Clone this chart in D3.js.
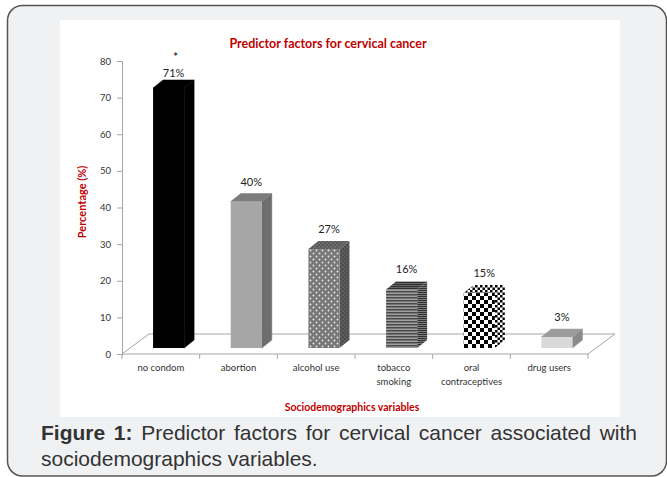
<!DOCTYPE html>
<html lang="en">
<head>
<meta charset="utf-8">
<title>Predictor factors for cervical cancer</title>
<script src="https://d3js.org/d3.v7.min.js"></script>
<style>
  body { margin: 0; width: 667px; height: 477px; overflow: hidden; background: #fff; position: relative; }
  #caption {
    position: absolute; left: 41px; top: 420px; width: 596px;
    font-family: "Liberation Sans", Arial, sans-serif; font-size: 21px; line-height: 26px;
    color: #333; text-align: justify;
  }
  #caption b { color: #333; }
</style>
</head>
<body>
<svg id="chart" width="667" height="477"></svg>
<div id="caption"><b>Figure 1:</b> Predictor factors for cervical cancer associated with sociodemographics variables.</div>
<script>
// data
var categories = ["no condom", "abortion", "alcohol use", "tobacco smoking", "oral contraceptives", "drug users"];
var categoryLines = [["no condom"], ["abortion"], ["alcohol use"], ["tobacco", "smoking"], ["oral", "contraceptives"], ["drug users"]];
var values = [71, 40, 27, 16, 15, 3];
var valueLabels = ["71%", "40%", "27%", "16%", "15%", "3%"];
var notes = ["*", "", "", "", "", ""];
var yTicks = [0, 10, 20, 30, 40, 50, 60, 70, 80];

var svg = d3.select("#chart");
var red = "#c00000", axisGrey = "#a6a6a6", chartFont = "Lato, 'Open Sans', sans-serif";

// card + white chart area
svg.append("rect").attr("x", 7.5).attr("y", 5.5).attr("width", 659).attr("height", 470.5)
  .attr("rx", 15).attr("fill", "#f0f1f3").attr("stroke", "#555").attr("stroke-width", 1.5);
svg.append("rect").attr("x", 60).attr("y", 20).attr("width", 560).attr("height", 397).attr("fill", "#fff");

// patterns
var defs = svg.append("defs");
function dots(id, bg, fg, s, r) {
  var p = defs.append("pattern").attr("id", id).attr("patternUnits", "userSpaceOnUse")
    .attr("width", s).attr("height", s);
  p.append("rect").attr("width", s).attr("height", s).attr("fill", bg);
  p.append("circle").attr("cx", s / 4).attr("cy", s / 4).attr("r", r).attr("fill", fg);
  p.append("circle").attr("cx", 3 * s / 4).attr("cy", 3 * s / 4).attr("r", r).attr("fill", fg);
}
function stripes(id, bg, fg, s) {
  var p = defs.append("pattern").attr("id", id).attr("patternUnits", "userSpaceOnUse")
    .attr("width", 4).attr("height", s);
  p.append("rect").attr("width", 4).attr("height", s).attr("fill", bg);
  p.append("rect").attr("width", 4).attr("height", s / 2).attr("fill", fg);
}
function checker(id, a, b, s) {
  var p = defs.append("pattern").attr("id", id).attr("patternUnits", "userSpaceOnUse")
    .attr("width", 2 * s).attr("height", 2 * s);
  p.append("rect").attr("width", 2 * s).attr("height", 2 * s).attr("fill", a);
  p.append("rect").attr("width", s).attr("height", s).attr("fill", b);
  p.append("rect").attr("x", s).attr("y", s).attr("width", s).attr("height", s).attr("fill", b);
}
dots("dotFront", "#777", "#e8e8e8", 6, 0.9);
dots("dotSide", "#4d4d4d", "#999", 4, 0.6);
dots("dotTop", "#5a5a5a", "#aaa", 4, 0.6);
stripes("lineFront", "#a0a0a0", "#4a4a4a", 3);
stripes("lineSide", "#7a7a7a", "#333", 2);
stripes("lineTop", "#666", "#333", 2);
checker("chkFront", "#fff", "#000", 4);
checker("chkSide", "#fff", "#000", 2.5);
checker("chkTop", "#fff", "#000", 2.5);

var barStyles = [
  { front: "#000", side: "#000", top: "#000", solid: true },
  { front: "#a6a6a6", side: "#6e6e6e", top: "#7c7c7c", solid: true },
  { front: "url(#dotFront)", side: "url(#dotSide)", top: "url(#dotTop)" },
  { front: "url(#lineFront)", side: "url(#lineSide)", top: "url(#lineTop)" },
  { front: "url(#chkFront)", side: "url(#chkSide)", top: "url(#chkTop)" },
  { front: "#d9d9d9", side: "#8a8a8a", top: "#9c9c9c", solid: true }
];

// scales
var x = d3.scaleBand().domain(categories).range([122, 588]);
var y = d3.scaleLinear().domain([0, 80]).range([354, 61]);
var bw = x.bandwidth();
var depth = { dx: 10, dy: -8 }, floor = { dx: 27, dy: -20 }, lift = 6;

// floor
var x0 = x.range()[0], x1 = x.range()[1], y0 = y(0);
svg.append("path")
  .attr("d", "M" + x0 + "," + y0 + "L" + (x0 + floor.dx) + "," + (y0 + floor.dy) +
    "L" + (x1 + floor.dx) + "," + (y0 + floor.dy) + "L" + x1 + "," + y0)
  .attr("fill", "none").attr("stroke", axisGrey).attr("stroke-width", 1);

// y axis
var yAxis = svg.append("g").attr("transform", "translate(" + x0 + ",0)")
  .call(d3.axisLeft(y).tickValues(yTicks).tickSize(5).tickPadding(6));
yAxis.select(".domain").attr("stroke", axisGrey);
yAxis.selectAll(".tick line").attr("stroke", axisGrey);
yAxis.selectAll("text").attr("fill", "#333").attr("font-family", chartFont).attr("font-size", 9.5);

// x axis: line + boundary ticks + labels
svg.append("line").attr("x1", x0).attr("x2", x1).attr("y1", y0).attr("y2", y0)
  .attr("stroke", axisGrey);
svg.selectAll(".xtick").data(categories.concat([null])).enter().append("line")
  .attr("x1", function (d) { return d === null ? x1 : x(d); })
  .attr("x2", function (d) { return d === null ? x1 : x(d); })
  .attr("y1", y0).attr("y2", y0 + 5).attr("stroke", axisGrey);
var xl = svg.selectAll(".xlabel").data(categories).enter().append("text")
  .attr("x", function (d) { return x(d) + bw / 2; })
  .attr("y", y0 + 17)
  .attr("text-anchor", "middle").attr("font-family", chartFont).attr("font-size", 9.5)
  .attr("fill", "#333");
xl.each(function (d, i) {
  d3.select(this).selectAll("tspan").data(categoryLines[i]).enter().append("tspan")
    .attr("x", x(d) + bw / 2).attr("dy", function (t, j) { return j ? 14 : 0; })
    .text(function (t) { return t; });
});

// bars
var bars = svg.selectAll(".bar").data(categories).enter().append("g");
bars.each(function (d, i) {
  var g = d3.select(this), st = barStyles[i];
  var bx0 = x(d) + bw * 0.4, bx1 = x(d) + bw * 0.8;
  var yb = y(0) - lift, yt = y(values[i]) - lift;
  var side = g.append("path").attr("fill", st.side)
    .attr("d", "M" + bx1 + "," + yb + "L" + (bx1 + depth.dx) + "," + (yb + depth.dy) +
      "L" + (bx1 + depth.dx) + "," + (yt + depth.dy) + "L" + bx1 + "," + yt + "Z");
  var top = g.append("path").attr("fill", st.top)
    .attr("d", "M" + bx0 + "," + yt + "L" + bx1 + "," + yt + "L" + (bx1 + depth.dx) + "," + (yt + depth.dy) +
      "L" + (bx0 + depth.dx) + "," + (yt + depth.dy) + "Z");
  if (st.solid) {
    side.attr("stroke", st.side).attr("stroke-width", 0.5);
    top.attr("stroke", st.top).attr("stroke-width", 0.5);
  }
  g.append("rect").attr("x", bx0).attr("y", yt).attr("width", bx1 - bx0).attr("height", yb - yt)
    .attr("fill", st.front);
  var lx = (bx0 + bx1) / 2 + depth.dx / 2;
  var ly = Math.max(yt + depth.dy - 8, 77);
  g.append("text").attr("x", lx).attr("y", ly).attr("text-anchor", "middle")
    .attr("font-family", chartFont).attr("font-size", 11).attr("fill", "#222")
    .text(valueLabels[i]);
  if (notes[i]) {
    g.append("text").attr("x", lx + 2).attr("y", ly - 16).attr("text-anchor", "middle")
      .attr("font-family", chartFont).attr("font-size", 11).attr("font-weight", "bold").attr("fill", "#333")
      .text(notes[i]);
  }
});

// titles
svg.append("text").attr("x", 328).attr("y", 48).attr("text-anchor", "middle")
  .attr("font-family", chartFont).attr("font-weight", "bold").attr("font-size", 12.5).attr("fill", red)
  .text("Predictor factors for cervical cancer");
svg.append("text").attr("transform", "translate(86,202) rotate(-90)").attr("text-anchor", "middle")
  .attr("font-family", chartFont).attr("font-weight", "bold").attr("font-size", 11).attr("fill", red)
  .text("Percentage (%)");
svg.append("text").attr("x", 352).attr("y", 411).attr("text-anchor", "middle")
  .attr("font-family", chartFont).attr("font-weight", "bold").attr("font-size", 10.5).attr("fill", red)
  .text("Sociodemographics variables");
</script>
</body>
</html>
